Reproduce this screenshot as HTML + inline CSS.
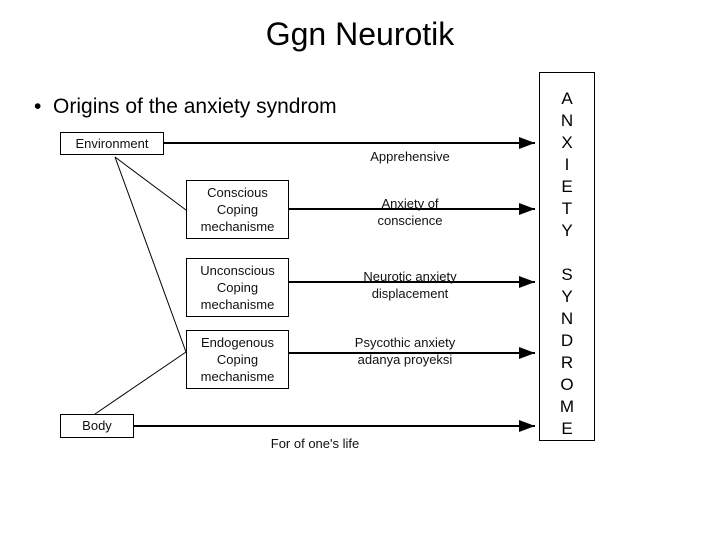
<!DOCTYPE html>
<html><head><style>
body{margin:0;width:720px;height:540px;background:#fff;position:relative;font-family:"Liberation Sans",sans-serif;overflow:hidden}
.t{position:absolute;white-space:nowrap}
.s{font-size:13px;color:#111;text-align:center;line-height:17px}
.b{position:absolute;border:1px solid #000;background:#fff;box-sizing:border-box}
</style></head><body>
<svg width="720" height="540" style="position:absolute;left:0;top:0">
<defs><marker id="a" markerWidth="8" markerHeight="6" refX="8" refY="3" orient="auto"><path d="M0,0 L8,3 L0,6z" fill="#000"/></marker></defs>
<g stroke="#000" stroke-width="2" marker-end="url(#a)">
<line x1="163" y1="143" x2="535" y2="143"/>
<line x1="288" y1="209" x2="535" y2="209"/>
<line x1="288" y1="282" x2="535" y2="282"/>
<line x1="288" y1="353" x2="535" y2="353"/>
<line x1="133" y1="426" x2="535" y2="426"/>
</g>
<g stroke="#000" stroke-width="1">
<line x1="115" y1="157" x2="186" y2="210"/>
<line x1="115" y1="157" x2="186" y2="352"/>
<line x1="95" y1="414" x2="186" y2="352"/>
</g>
</svg>
<div class="t" style="left:0;width:720px;top:16px;text-align:center;font-size:32px">Ggn Neurotik</div>
<div class="t" style="left:34px;top:95px;font-size:21px">•&nbsp; Origins of the anxiety syndrom</div>
<div class="b s" style="left:60px;top:132px;width:104px;height:23px;line-height:21px">Environment</div>
<div class="b s" style="left:60px;top:414px;width:74px;height:24px;line-height:22px">Body</div>
<div class="b s" style="left:186px;top:180px;width:103px;height:59px;padding-top:3px">Conscious<br>Coping<br>mechanisme</div>
<div class="b s" style="left:186px;top:258px;width:103px;height:59px;padding-top:3px">Unconscious<br>Coping<br>mechanisme</div>
<div class="b s" style="left:186px;top:330px;width:103px;height:59px;padding-top:3px">Endogenous<br>Coping<br>mechanisme</div>
<div class="t s" style="left:340px;width:140px;top:148px">Apprehensive</div>
<div class="t s" style="left:340px;width:140px;top:195px">Anxiety of<br>conscience</div>
<div class="t s" style="left:340px;width:140px;top:268px">Neurotic anxiety<br>displacement</div>
<div class="t s" style="left:335px;width:140px;top:334px">Psycothic anxiety<br>adanya proyeksi</div>
<div class="t s" style="left:245px;width:140px;top:435px">For of one's life</div>
<div class="b" style="left:539px;top:72px;width:56px;height:369px;font-size:17px;text-align:center;line-height:22px;padding-top:15px">A<br>N<br>X<br>I<br>E<br>T<br>Y<br><br>S<br>Y<br>N<br>D<br>R<br>O<br>M<br>E</div>
</body></html>
